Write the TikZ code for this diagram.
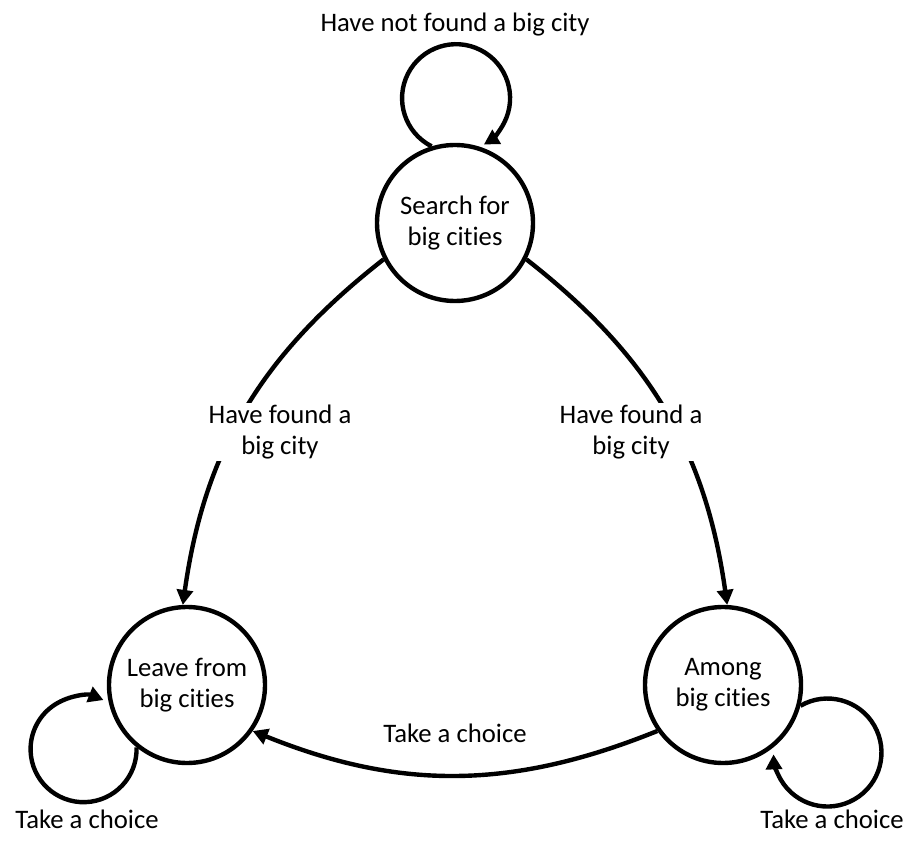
\documentclass[tikz,border=0pt]{standalone}
\usepackage{fontspec}
\setmainfont{Carlito}[Ligatures=NoCommon]
\usetikzlibrary{arrows.meta}
\begin{document}
\begin{tikzpicture}[x=1pt,y=1pt,
  every node/.style={font=\fontsize{26.7}{31}\selectfont, text=black},
  state/.style={circle, draw, line width=4.4pt, minimum size=156pt, inner sep=0pt, align=center},
  conn/.style={line width=4.4pt, -{Triangle[length=15pt,width=16pt]}},
  lbl/.style={fill=white, align=center, inner sep=2pt}]
\useasboundingbox (0,0) rectangle (920,847);
\node[state] (top) at (455,624) {Search for\\big cities};
\node[state] (bl) at (187,162) {Leave from\\big cities};
\node[state] (br) at (723,162) {Among\\big cities};

\draw[conn] (top.207) to[out=218,in=82] (bl.93);
\draw[conn] (top.333) to[out=322,in=98] (br.87);
\draw[conn] (br.215) to[out=202,in=338] (bl.325);

\draw[conn] (top.107) arc[start angle=243,end angle=-59,radius=54];
\draw[conn] (bl.231) arc[start angle=2,end angle=-292,radius=53];
\draw[conn] (br.345) arc[start angle=120,end angle=-178,radius=54];

\node[lbl] (l1) at (280,415) {Have found a\\big city};
\node[lbl] (l2) at (631,415) {Have found a\\big city};
\node (l3) at (455,114) {Take a choice};
\node (l4) at (455,822) {Have not found a big city};
\node (l5) at (87,28) {Take a choice};
\node (l6) at (832,28) {Take a choice};
\end{tikzpicture}
\end{document}
